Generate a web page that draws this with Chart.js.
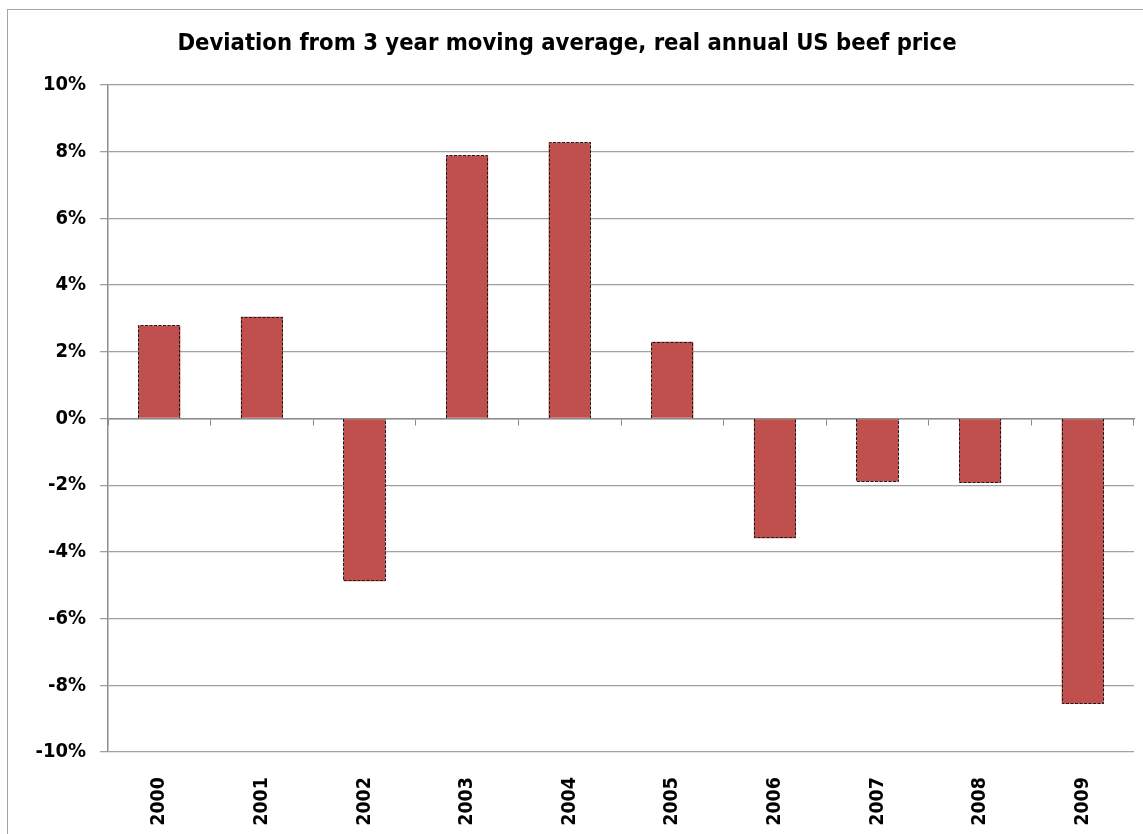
<!DOCTYPE html>
<html>
<head>
<meta charset="utf-8">
<script src="https://cdn.jsdelivr.net/npm/chart.js@4/dist/chart.umd.min.js"></script>
<style>
  html, body { margin: 0; padding: 0; background: #ffffff; }
  #wrap { width: 1143px; height: 834px; }
</style>
</head>
<body>
<div id="wrap"><canvas id="c" width="1143" height="834"></canvas></div>
<script>
const chartTitle = 'Deviation from 3 year moving average, real annual US beef price';
const years = ['2000','2001','2002','2003','2004','2005','2006','2007','2008','2009'];
const deviationPct = [2.79, 3.05, -4.88, 7.89, 8.28, 2.30, -3.59, -1.89, -1.93, -8.55];
const yMin = -10, yMax = 10, yStep = 2;

const FONT = "'Liberation Sans Narrow', 'DejaVu Sans Condensed', Arial, sans-serif";
const gridColor = '#a0a0a0';
const axisColor = '#8c8c8c';

const frame = {
  id: 'frame',
  beforeDraw(chart) {
    const ctx = chart.ctx;
    ctx.save();
    ctx.fillStyle = '#ffffff';
    ctx.fillRect(0, 0, chart.width, chart.height);
    ctx.strokeStyle = '#a6a6a6';
    ctx.lineWidth = 1;
    ctx.strokeRect(7.5, 9.5, chart.width + 20, chart.height + 20);
    ctx.restore();
  }
};

const dashedBars = {
  id: 'dashedBars',
  afterDatasetsDraw(chart) {
    const ctx = chart.ctx;
    ctx.save();
    ctx.strokeStyle = '#1a1a1a';
    ctx.lineWidth = 1;
    ctx.setLineDash([3, 1.5]);
    chart.getDatasetMeta(0).data.forEach(el => {
      const p = el.getProps(['x', 'y', 'base', 'width'], true);
      const l = Math.round(p.x - p.width / 2) + 0.5;
      const r = Math.round(p.x + p.width / 2) - 0.5;
      const tip = Math.round(p.y) + (p.y < p.base ? 0.5 : -0.5);
      const base = Math.round(p.base);
      ctx.beginPath();
      ctx.moveTo(l, base);
      ctx.lineTo(l, tip);
      ctx.lineTo(r, tip);
      ctx.lineTo(r, base);
      ctx.stroke();
    });
    ctx.restore();
  }
};

new Chart(document.getElementById('c'), {
  type: 'bar',
  data: {
    labels: years,
    datasets: [{
      data: deviationPct,
      backgroundColor: '#C0504D',
      borderWidth: 0,
      barPercentage: 0.41,
      categoryPercentage: 1.0
    }]
  },
  options: {
    responsive: false,
    animation: false,
    layout: { padding: { left: 0, right: 9, top: 0, bottom: 0 } },
    plugins: {
      legend: { display: false },
      tooltip: { enabled: false },
      title: {
        display: true,
        text: chartTitle,
        color: '#000000',
        font: { family: FONT, size: 23.6, weight: 'bold', lineHeight: 1.2 },
        padding: { top: 30, bottom: 26.7 }
      }
    },
    scales: {
      y: {
        min: yMin, max: yMax,
        afterFit(axis) { axis.width = 108; },
        ticks: {
          stepSize: yStep,
          padding: 14,
          color: '#000000',
          font: { family: FONT, size: 20, weight: 'bold' },
          callback: v => v + '%'
        },
        grid: { color: gridColor, lineWidth: 1.3, tickLength: 8 },
        border: { display: true, color: axisColor, width: 1.5 }
      },
      x: {
        afterFit(axis) { axis.height = 82; },
        ticks: {
          minRotation: 90, maxRotation: 90,
          padding: 25,
          autoSkip: false,
          color: '#000000',
          font: { family: FONT, size: 19.5, weight: 'bold' }
        },
        grid: { display: false, drawTicks: false },
        border: { display: false }
      },
      x0: {
        type: 'category',
        labels: years,
        position: { y: 0 },
        offset: true,
        ticks: { display: false },
        grid: { offset: true, drawOnChartArea: false, drawTicks: true, tickLength: 6, color: axisColor, lineWidth: 1 },
        border: { display: true, color: axisColor, width: 1.5 }
      }
    }
  },
  plugins: [frame, dashedBars]
});
</script>
</body>
</html>
